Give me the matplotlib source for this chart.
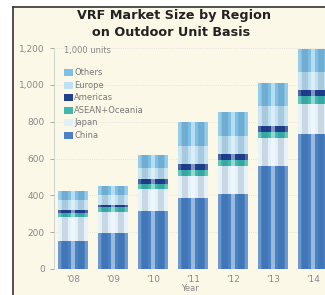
import numpy as np
import matplotlib
matplotlib.use("Agg")
import matplotlib.pyplot as plt
from matplotlib.patches import Rectangle
from matplotlib.lines import Line2D

years = ["'08", "'09", "'10", "'11", "'12", "'13", "'14"]
regions = ["China", "Japan", "ASEAN+Oceania", "Americas", "Europe", "Others"]
china = [150, 195, 317, 384, 408, 560, 732]
japan = [135, 115, 115, 120, 150, 150, 165]
asean = [20, 25, 30, 35, 35, 35, 40]
americas = [15, 15, 25, 30, 30, 30, 35]
europe = [55, 50, 60, 100, 100, 110, 100]
others = [50, 50, 73, 131, 127, 125, 123]
yticks = [0, 200, 400, 600, 800, 1000, 1200]
ytick_labels = ["0", "200", "400", "600", "800", "1,000", "1,200"]

series = [china, japan, asean, americas, europe, others]
colors = ["#4a82c4", "#e2f1f8", "#3fb8ad", "#1f3f8f", "#bfe1f1", "#7ec0e4"]

W, H = 325, 295
fig = plt.figure(figsize=(W / 100, H / 100), dpi=100)
fig.patch.set_facecolor("white")

# cream panel with a dark border on the left and top
top = 1 - 7 / H
fig.patches.append(Rectangle((13 / W, 0), 1, top, transform=fig.transFigure,
                             facecolor="#fcf8e8", edgecolor="none", zorder=-10))
fig.lines.append(Line2D([13 / W, 13 / W], [0, top], transform=fig.transFigure,
                        color="#333333", lw=1.2, zorder=-5))
fig.lines.append(Line2D([13 / W, 1], [top, top], transform=fig.transFigure,
                        color="#333333", lw=1.2, zorder=-5))

ax = fig.add_axes([54 / W, 26 / H, 1 - 54 / W, (269 - 48) / H])
ax.set_facecolor("none")

x = np.arange(len(years))
bottom = np.zeros(len(years))
handles = []
for vals, col, name in zip(series, colors, regions):
    b = ax.bar(x, vals, width=0.75, bottom=bottom, color=col, edgecolor="none",
               label=name, zorder=2)
    handles.append(b)
    bottom += np.array(vals)

totals = bottom.copy()
# cylinder-ish shading: dark stripes, light middle and edges
ax.bar(x, totals, width=0.12, color="white", alpha=0.45, edgecolor="none", zorder=3)
ax.bar(x - 0.2, totals, width=0.14, color="#0b2a5a", alpha=0.12, edgecolor="none", zorder=3)
ax.bar(x + 0.2, totals, width=0.14, color="#0b2a5a", alpha=0.12, edgecolor="none", zorder=3)
ax.bar(x - 0.335, totals, width=0.08, color="white", alpha=0.2, edgecolor="none", zorder=3)
ax.bar(x + 0.335, totals, width=0.08, color="white", alpha=0.2, edgecolor="none", zorder=3)

ax.set_xlim(-0.475, 6.3)
ax.set_ylim(0, 1200)
ax.set_yticks(yticks)
ax.set_yticklabels(ytick_labels)
ax.set_xticks(x)
ax.set_xticklabels(years)
ax.tick_params(axis="both", labelsize=6.5, colors="#888888", length=3, width=0.5)
ax.tick_params(axis="x", length=0, pad=4)
for s in ["top", "right", "bottom"]:
    ax.spines[s].set_visible(False)
ax.spines["left"].set_color("#cccccc")
ax.spines["left"].set_linewidth(0.6)
ax.grid(axis="y", color="#dddddd", linestyle=":", linewidth=0.6, zorder=0)
ax.set_axisbelow(True)
ax.set_xlabel("Year", fontsize=6, color="#888888", labelpad=0.5)

fig.text(174 / W, 1 - 16 / H, "VRF Market Size by Region", ha="center", va="center",
         fontsize=9.2, fontweight="bold", color="#222222")
fig.text(171 / W, 1 - 33 / H, "on Outdoor Unit Basis", ha="center", va="center",
         fontsize=9.2, fontweight="bold", color="#222222")
fig.text(64 / W, 1 - 50 / H, "1,000 units", ha="left", va="center",
         fontsize=6, color="#888888")

leg = ax.legend(handles[::-1], regions[::-1], loc="upper left",
                bbox_to_anchor=(0.02, 0.93), frameon=False, fontsize=6,
                handlelength=1.0, handleheight=0.9, handletextpad=0.15,
                labelspacing=0.42, borderaxespad=0.2)
for t in leg.get_texts():
    t.set_color("#777777")

fig.savefig("out.png", dpi=100, facecolor=fig.get_facecolor())
